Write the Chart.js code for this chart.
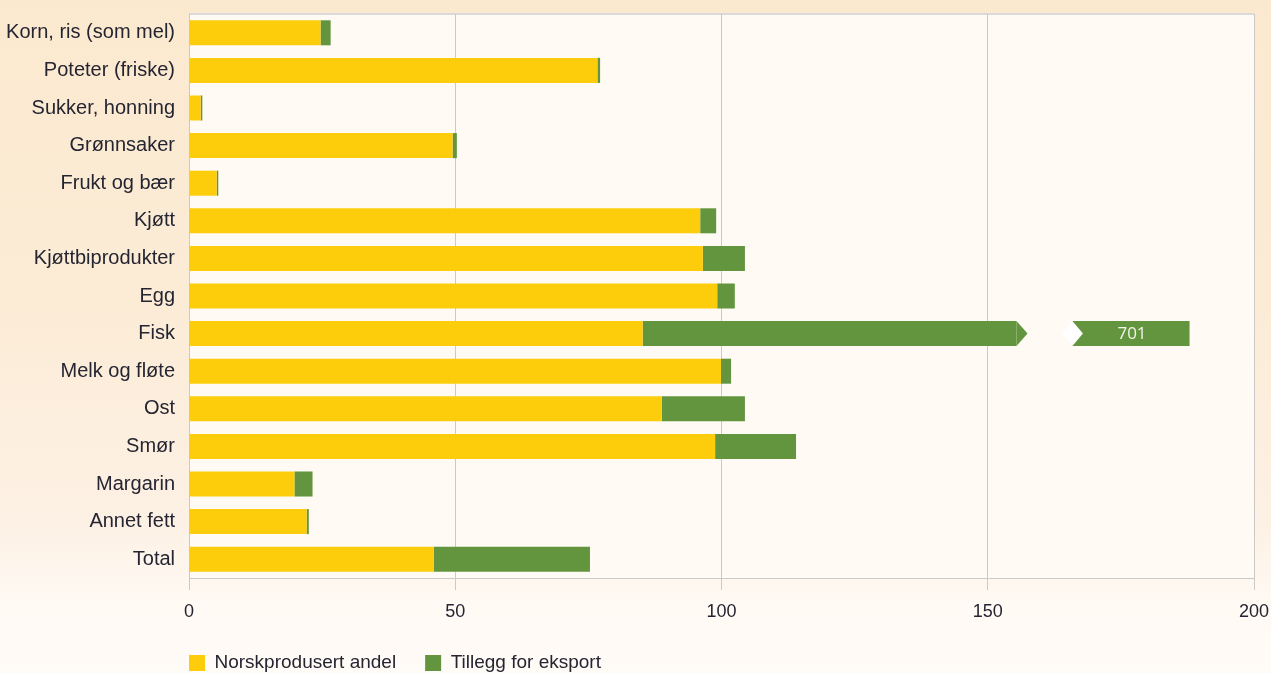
<!DOCTYPE html>
<html>
<head>
<meta charset="utf-8">
<script src="https://cdn.jsdelivr.net/npm/chart.js@4.4.1/dist/chart.umd.min.js"></script>
<style>
  html, body { margin: 0; padding: 0; }
  body {
    width: 1271px; height: 673px; overflow: hidden;
    background: linear-gradient(180deg, #fbe9cf 0%, #fcecd6 45%, #fdf1e5 78%, #fffaf4 90%, #fffbf6 100%);
  }
  #wrap { position: relative; width: 1271px; height: 673px; }
</style>
</head>
<body>
<div id="wrap"><canvas id="chart"></canvas></div>
<script>
const categories = [
  'Korn, ris (som mel)', 'Poteter (friske)', 'Sukker, honning', 'Grønnsaker', 'Frukt og bær',
  'Kjøtt', 'Kjøttbiprodukter', 'Egg', 'Fisk', 'Melk og fløte', 'Ost', 'Smør',
  'Margarin', 'Annet fett', 'Total'
];
// Norskprodusert andel (%)
const norsk = [24.7, 76.7, 2.2, 49.5, 5.2, 96.0, 96.5, 99.2, 85.2, 99.9, 88.8, 98.8, 19.8, 22.1, 46.0];
// Tillegg for eksport (%), Fisk cut at the axis break
const eksport = [1.9, 0.5, 0.3, 0.8, 0.3, 3.0, 7.9, 3.3, 70.2, 1.9, 15.6, 15.2, 3.4, 0.4, 29.3];
// piece of the Fisk bar drawn after the break
const fiskIndex = 8;
const fiskBreak = [165.9, 187.9];
const fiskLabel = '701';
const xTicks = [0, 50, 100, 150, 200];
const seriesNames = ['Norskprodusert andel', 'Tillegg for eksport'];

const YELLOW = '#fdcc0a';
const GREEN = '#63953f';
const GRID = '#c9c9c9';
const TEXT = '#252532';

// floating pieces built from the arrays
const yellowBars = norsk.map(v => [0, v]);
const greenBars = norsk.map((v, i) => [v, v + eksport[i]]);
const breakBars = categories.map((c, i) => i === fiskIndex ? fiskBreak : null);

const plotDecor = {
  id: 'plotDecor',
  beforeDraw(chart) {
    const {ctx, chartArea: a} = chart;
    ctx.save();
    ctx.fillStyle = '#fffaf3';
    ctx.fillRect(a.left, a.top, a.right - a.left, a.bottom - a.top);
    ctx.strokeStyle = '#dadada';
    ctx.lineWidth = 2;
    ctx.beginPath();
    ctx.moveTo(a.left, a.top);
    ctx.lineTo(a.right, a.top);
    ctx.stroke();
    ctx.restore();
  },
  afterLayout(chart) {
    // legend under the plot, starting at the plot's left edge
    const lg = chart.legend;
    const p = lg.options.labels.padding;
    const h = lg.height;
    lg.left = chart.chartArea.left - p;
    lg.top = 663 - p - 9.5;
    lg.bottom = lg.top + h;
    // let the x tick labels use the room below the axis
    const x = chart.scales.x;
    x.bottom = chart.height;
    x.height = x.bottom - x.top;
  },
  afterDatasetsDraw(chart) {
    const {ctx} = chart;
    const g = chart.getDatasetMeta(1).data[fiskIndex];
    const b = chart.getDatasetMeta(2).data[fiskIndex];
    const half = g.height / 2;
    ctx.save();
    // arrow tip on the first green piece
    ctx.fillStyle = GREEN;
    ctx.beginPath();
    ctx.moveTo(g.x, g.y - half);
    ctx.lineTo(g.x + 11, g.y);
    ctx.lineTo(g.x, g.y + half);
    ctx.closePath();
    ctx.fill();
    // white notch on the piece after the break
    ctx.fillStyle = '#ffffff';
    ctx.beginPath();
    ctx.moveTo(b.base - 10.5, b.y);
    ctx.lineTo(b.base, b.y - half);
    ctx.lineTo(b.base + 10.5, b.y);
    ctx.lineTo(b.base, b.y + half);
    ctx.closePath();
    ctx.fill();
    ctx.fillStyle = '#f4f4ea';
    ctx.font = '17px "Open Sans"';
    ctx.textAlign = 'center';
    ctx.textBaseline = 'middle';
    ctx.fillText(fiskLabel, (b.base + b.x) / 2 + 1, b.y + 1);
    ctx.restore();
  }
};

const common = {grouped: false, borderWidth: 0, borderSkipped: false, barPercentage: 0.665, categoryPercentage: 1};

new Chart(document.getElementById('chart'), {
  type: 'bar',
  data: {
    labels: categories,
    datasets: [
      Object.assign({label: seriesNames[0], data: yellowBars, backgroundColor: YELLOW}, common),
      Object.assign({label: seriesNames[1], data: greenBars, backgroundColor: GREEN}, common),
      Object.assign({label: 'break', data: breakBars, backgroundColor: GREEN}, common)
    ]
  },
  options: {
    indexAxis: 'y',
    responsive: true,
    maintainAspectRatio: false,
    animation: false,
    layout: {padding: {top: 14, right: 17, left: 0, bottom: 0}},
    scales: {
      x: {
        min: 0, max: 200,
        afterBuildTicks: s => { s.ticks = xTicks.map(v => ({value: v})); },
        afterFit: s => {
          s.height = 673 - 578 - (s.chart.legend ? s.chart.legend.height : 0);
          s.paddingLeft = 0; s.paddingRight = 0;
        },
        grid: {color: GRID, lineWidth: 1, tickLength: 12, drawTicks: true},
        border: {color: GRID, width: 1},
        ticks: {color: TEXT, padding: 11, font: {family: 'Liberation Sans', size: 18}, maxRotation: 0}
      },
      y: {
        afterFit: s => { s.width = 189; s.paddingTop = 0; s.paddingBottom = 0; },
        grid: {display: false, drawTicks: false},
        border: {color: GRID, width: 1},
        ticks: {color: TEXT, padding: 14, font: {family: 'Liberation Sans', size: 20}}
      }
    },
    plugins: {
      tooltip: {enabled: false},
      legend: {
        position: 'bottom',
        align: 'start',
        labels: {
          filter: item => item.datasetIndex < 2,
          boxWidth: 16, boxHeight: 16, padding: 29,
          color: TEXT,
          font: {family: 'Liberation Sans', size: 19}
        }
      }
    }
  },
  plugins: [plotDecor]
});
</script>
</body>
</html>
